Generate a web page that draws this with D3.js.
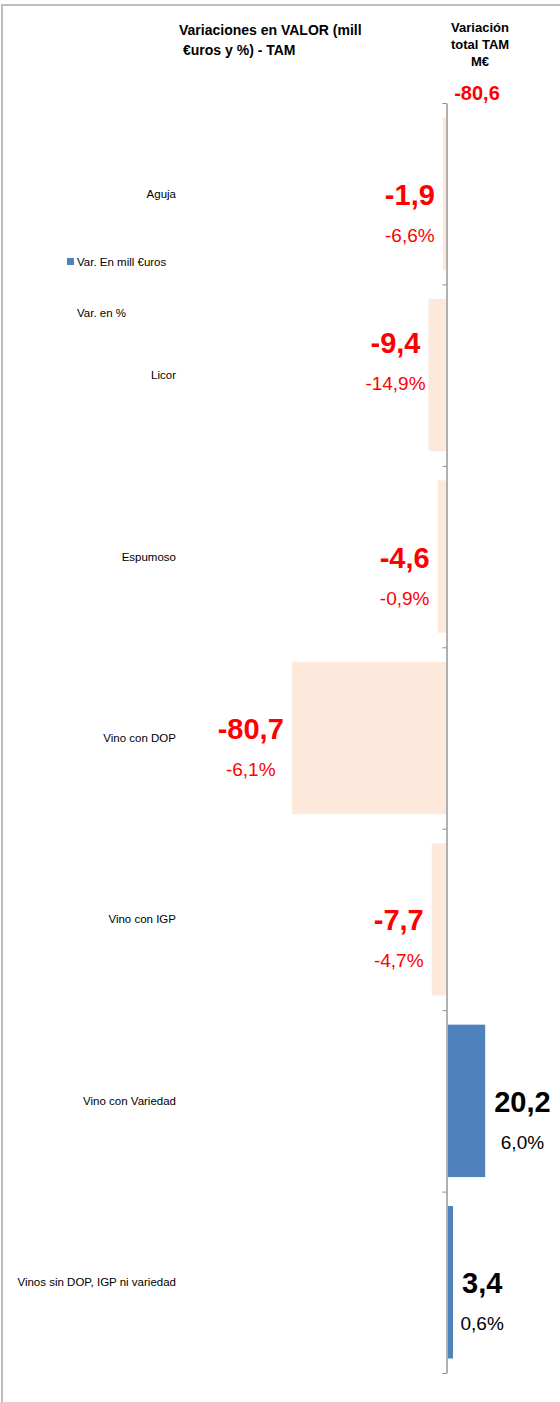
<!DOCTYPE html>
<html>
<head>
<meta charset="utf-8">
<script src="https://cdn.jsdelivr.net/npm/d3@7"></script>
<style>
  body { margin: 0; background: #fff; }
  svg { display: block; font-family: "Liberation Sans", Arial, sans-serif; }
</style>
</head>
<body>
<svg width="560" height="1402"></svg>
<script>
// data
const categories = ["Aguja", "Licor", "Espumoso", "Vino con DOP", "Vino con IGP", "Vino con Variedad", "Vinos sin DOP, IGP ni variedad"];
const varMill = [-1.9, -9.4, -4.6, -80.7, -7.7, 20.2, 3.4];
const varPct = [-6.6, -14.9, -0.9, -6.1, -4.7, 6.0, 0.6];
const totalTam = -80.6;
const legendLabels = ["Var. En mill €uros", "Var. en %"];

const rows = categories.map((c, i) => ({cat: c, val: varMill[i], pct: varPct[i]}));

// spanish decimals, plain hyphen as minus sign
const es = d3.formatLocale({decimal: ",", thousands: ".", grouping: [3], currency: ["", "€"], minus: "-"});
const fmt1 = es.format(".1f");

let svg = d3.select("svg");

// frame
svg.append("path")
    .attr("d", "M2,1402 V5 H560")
    .attr("fill", "none")
    .attr("stroke", "#bdbdbd")
    .attr("stroke-width", 2);

let xScale = d3.scaleLinear()
    .domain([-90, 30])
    .range([274, 504]);

let yScale = d3.scaleBand()
    .domain(categories)
    .range([103, 1373])
    .paddingInner(0.16)
    .paddingOuter(0.08);

/// bars ///
svg.append("g")
    .selectAll("rect")
    .data(rows)
    .enter()
    .append("rect")
    .attr("x", d => xScale(Math.min(0, d.val)))
    .attr("width", d => Math.abs(xScale(d.val) - xScale(0)))
    .attr("y", d => yScale(d.cat))
    .attr("height", yScale.bandwidth())
    .attr("fill", d => d.val < 0 ? "#fce9db" : "#4f81bd");

/// category axis with ticks on band edges ///
let edgeScale = d3.scaleLinear().domain([0, categories.length]).range(yScale.range());
let axis = svg.append("g")
    .attr("transform", `translate(${xScale(0)},0)`)
    .call(d3.axisLeft(edgeScale).ticks(categories.length).tickSize(4).tickSizeOuter(0).tickFormat(""));
axis.select(".domain").attr("stroke", "#b0b0b0").attr("stroke-width", 2);
axis.selectAll(".tick line").attr("stroke", "#8c8c8c");

/// category labels ///
svg.append("g")
    .selectAll("text")
    .data(rows)
    .enter()
    .append("text")
    .attr("x", 176)
    .attr("y", d => yScale(d.cat) + yScale.bandwidth() / 2 + 4)
    .attr("text-anchor", "end")
    .style("font-size", "11.5px")
    .attr("fill", "#000")
    .text(d => d.cat);

/// value labels ///
const nudge = {"Licor": -33, "Vino con DOP": -10};
let labels = svg.append("g")
    .selectAll("g")
    .data(rows)
    .enter()
    .append("g");

labels.append("text")
    .attr("class", "big")
    .attr("x", d => d.val < 0 ? xScale(d.val) - 8 : xScale(d.val) + 9)
    .attr("y", d => yScale(d.cat) + yScale.bandwidth() / 2 + 11 + (nudge[d.cat] || 0))
    .attr("text-anchor", d => d.val < 0 ? "end" : "start")
    .style("font-size", "29px")
    .style("font-weight", "bold")
    .attr("fill", d => d.val < 0 ? "#ff0000" : "#000")
    .text(d => fmt1(d.val));

labels.each(function (d) {
    let g = d3.select(this);
    let big = g.select("text.big");
    let w = big.node().getComputedTextLength();
    let bx = +big.attr("x");
    let cx = d.val < 0 ? bx - w / 2 : bx + w / 2;
    g.append("text")
        .attr("x", cx)
        .attr("y", +big.attr("y") + 37)
        .attr("text-anchor", "middle")
        .style("font-size", "19px")
        .attr("fill", d.val < 0 ? "#ff0000" : "#000")
        .text(fmt1(d.pct) + "%");
});

/// legend ///
svg.append("rect")
    .attr("x", 67).attr("y", 258)
    .attr("width", 7).attr("height", 7)
    .attr("fill", "#4f81bd");
svg.append("text")
    .attr("x", 77).attr("y", 266)
    .style("font-size", "11.5px")
    .text(legendLabels[0]);
svg.append("text")
    .attr("x", 77).attr("y", 317)
    .style("font-size", "11.5px")
    .text(legendLabels[1]);

/// title ///
let title = svg.append("text")
    .style("font-size", "14px")
    .style("font-weight", "bold");
title.append("tspan").attr("x", 179).attr("y", 35).text("Variaciones en VALOR (mill");
title.append("tspan").attr("x", 183).attr("y", 55).text("€uros y %) - TAM");

/// right header ///
let head = svg.append("text")
    .attr("text-anchor", "middle")
    .style("font-size", "13px")
    .style("font-weight", "bold");
["Variación", "total TAM", "M€"].forEach((t, i) => {
    head.append("tspan").attr("x", 480).attr("y", 32 + i * 17).text(t);
});

svg.append("text")
    .attr("x", 477)
    .attr("y", 100)
    .attr("text-anchor", "middle")
    .style("font-size", "20px")
    .style("font-weight", "bold")
    .attr("fill", "#ff0000")
    .text(fmt1(totalTam));
</script>
</body>
</html>
